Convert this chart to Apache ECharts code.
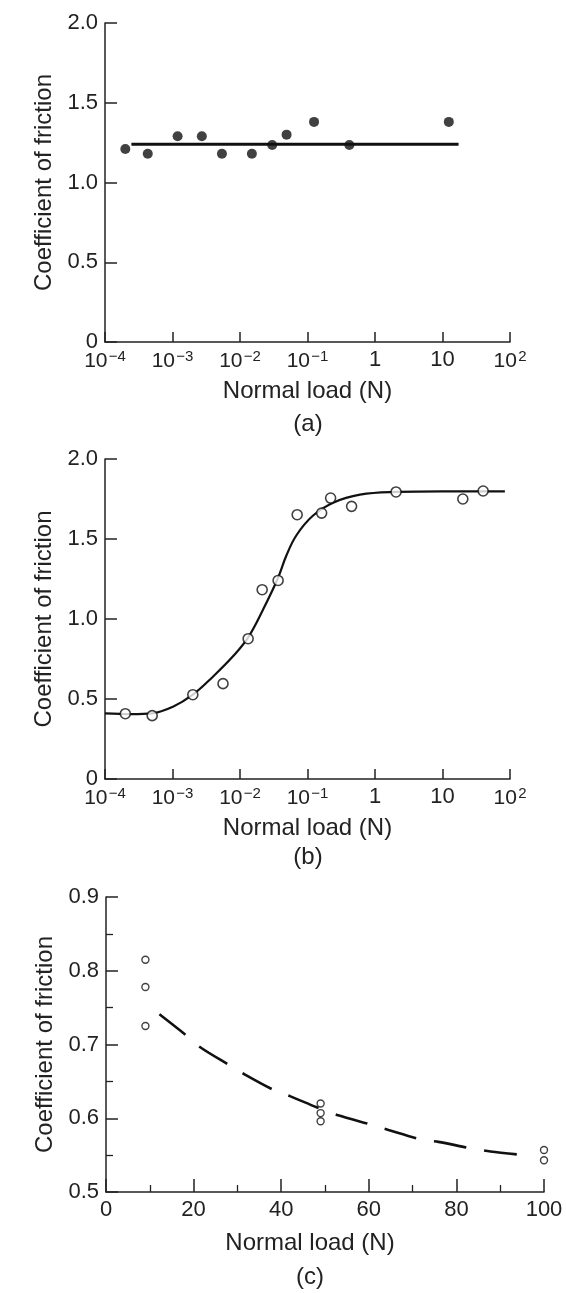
<!DOCTYPE html>
<html>
<head>
<meta charset="utf-8">
<title>Coefficient of friction vs normal load</title>
<script src="https://cdn.jsdelivr.net/npm/echarts@6/dist/echarts.min.js"></script>
<style>
  html, body { margin: 0; padding: 0; background: #fff; }
  #chart { width: 566px; height: 1293px; }
</style>
</head>
<body>
<div id="chart"></div>
<script>
// (a) filled dots, flat fit line
var aLoad = [2.0e-4, 4.3e-4, 1.19e-3, 2.72e-3, 5.4e-3, 0.015, 0.030, 0.049, 0.125, 0.417, 12.4];
var aMu   = [1.21, 1.18, 1.29, 1.29, 1.18, 1.18, 1.235, 1.30, 1.38, 1.235, 1.38];
var aFitLoad = [2.46e-4, 17.3];
var aFitMu   = [1.24, 1.24];

// (b) open circles, S-shaped curve
var bLoad = [2.0e-4, 5.0e-4, 2.0e-3, 5.6e-3, 0.0132, 0.0213, 0.0367, 0.0703, 0.162, 0.22, 0.45, 2.05, 20, 40];
var bMu   = [0.408, 0.396, 0.527, 0.596, 0.877, 1.183, 1.241, 1.652, 1.662, 1.756, 1.704, 1.794, 1.75, 1.80];
var bCurveLoad = [1e-4, 2.5e-4, 5e-4, 1e-3, 2e-3, 4e-3, 8e-3, 0.0132, 0.022, 0.036, 0.049, 0.069, 0.12, 0.24, 0.6, 2.1, 10, 84];
var bCurveMu   = [0.41, 0.405, 0.41, 0.45, 0.527, 0.641, 0.77, 0.885, 1.06, 1.25, 1.40, 1.525, 1.645, 1.727, 1.777, 1.794, 1.798, 1.798];

// (c) small open circles, dashed trend
var cLoad = [9, 9, 9, 49, 49, 49, 100, 100];
var cMu   = [0.815, 0.778, 0.725, 0.620, 0.607, 0.596, 0.557, 0.543];
var cCurveLoad = [12.2, 18.2, 21.6, 27.9, 31.5, 38.4, 42.0, 48.1, 53.0, 60.7, 64.5, 72.1, 75.9, 83.5, 87.8, 95.4];
var cCurveMu   = [0.741, 0.713, 0.696, 0.673, 0.660, 0.638, 0.630, 0.615, 0.604, 0.591, 0.584, 0.571, 0.568, 0.559, 0.555, 0.550];

var panelTags = ['(a)', '(b)', '(c)'];
var xName = 'Normal load (N)';
var yName = 'Coefficient of friction';

var FONT = '"Liberation Sans", Arial, Helvetica, sans-serif';
var INK = '#222';

function pairs(xs, ys) {
  return xs.map(function (x, i) { return [x, ys[i]]; });
}

// 10^n labels with a raised exponent
function logLabel(v) {
  var e = Math.round(Math.log10(v));
  if (e === 0) return '1';
  if (e === 1) return '10';
  return '{b|10}{s|\u200A' + (e < 0 ? '\u2212' : '') + Math.abs(e) + '}';
}

function baseAxis(gridIndex) {
  return {
    gridIndex: gridIndex,
    axisLine: { lineStyle: { color: INK, width: 1.5 } },
    axisTick: { inside: true, length: 10, lineStyle: { color: INK, width: 1.5 } },
    splitLine: { show: false },
    axisLabel: { color: INK, fontFamily: FONT, fontSize: 22, margin: 7 },
    nameLocation: 'middle',
    nameTextStyle: { color: INK, fontFamily: FONT, fontSize: 24 }
  };
}

function logX(gridIndex) {
  var ax = baseAxis(gridIndex);
  ax.type = 'log';
  ax.logBase = 10;
  ax.min = 1e-4;
  ax.max = 100;
  ax.interval = 1;
  ax.name = xName;
  ax.nameGap = 37;
  ax.axisLabel.formatter = logLabel;
  ax.axisLabel.rich = {
    b: { fontFamily: FONT, fontSize: 21, lineHeight: 25, color: INK },
    s: { fontFamily: FONT, fontSize: 15, lineHeight: 13, verticalAlign: 'top', color: INK }
  };
  return ax;
}

function muY(gridIndex) {
  var ax = baseAxis(gridIndex);
  ax.type = 'value';
  ax.min = 0;
  ax.max = 2;
  ax.interval = 0.5;
  ax.name = yName;
  ax.nameGap = 47;
  ax.axisTick.length = 12;
  ax.axisLabel.formatter = function (v) { return v === 0 ? '0' : v.toFixed(1); };
  return ax;
}

var xC = baseAxis(2);
xC.type = 'value';
xC.min = 0;
xC.max = 100;
xC.interval = 20;
xC.name = xName;
xC.nameGap = 39;
xC.nameTextStyle.padding = [0, 30, 0, 0];
xC.axisTick.length = 13;
xC.minorTick = { show: true, splitNumber: 2, length: 7, lineStyle: { color: INK, width: 1.3 } };

var yC = baseAxis(2);
yC.type = 'value';
yC.min = 0.5;
yC.max = 0.9;
yC.interval = 0.1;
yC.name = yName;
yC.nameGap = 47;
yC.axisTick.length = 12;
yC.minorTick = { show: true, splitNumber: 2, length: 7, lineStyle: { color: INK, width: 1.3 } };
yC.axisLabel.formatter = function (v) { return v.toFixed(1); };

var tagY = [424, 857, 1277];
var tagX = [308, 308, 310];

var chart = echarts.init(document.getElementById('chart'), null, { renderer: 'canvas' });
chart.setOption({
  backgroundColor: '#ffffff',
  animation: false,
  grid: [
    { left: 105, top: 23, width: 405, height: 319 },
    { left: 105, top: 459, width: 405, height: 320 },
    { left: 106, top: 897, width: 438, height: 295 }
  ],
  xAxis: [logX(0), logX(1), xC],
  yAxis: [muY(0), muY(1), yC],
  graphic: panelTags.map(function (t, i) {
    return {
      type: 'text',
      x: tagX[i],
      y: tagY[i],
      style: {
        text: t,
        fill: INK,
        font: '24px ' + FONT,
        textAlign: 'center',
        textVerticalAlign: 'middle'
      }
    };
  }),
  series: [
    {
      type: 'line', xAxisIndex: 0, yAxisIndex: 0,
      data: pairs(aFitLoad, aFitMu),
      symbol: 'none', silent: true,
      lineStyle: { color: '#111', width: 3 }, z: 2
    },
    {
      type: 'scatter', xAxisIndex: 0, yAxisIndex: 0,
      data: pairs(aLoad, aMu),
      symbol: 'circle', symbolSize: 10, silent: true,
      itemStyle: { color: '#111' }, z: 3
    },
    {
      type: 'line', xAxisIndex: 1, yAxisIndex: 1,
      data: pairs(bCurveLoad, bCurveMu),
      smooth: 0.4, symbol: 'none', silent: true,
      lineStyle: { color: '#111', width: 2.2 }, z: 2
    },
    {
      type: 'scatter', xAxisIndex: 1, yAxisIndex: 1,
      data: pairs(bLoad, bMu),
      symbol: 'circle', symbolSize: 10, silent: true,
      itemStyle: { color: '#fff', borderColor: '#111', borderWidth: 1.6 }, z: 3
    },
    {
      type: 'line', xAxisIndex: 2, yAxisIndex: 2,
      data: pairs(cCurveLoad, cCurveMu),
      smooth: 0.3, symbol: 'none', silent: true,
      lineStyle: { color: '#111', width: 2.6, type: [33, 18] }, z: 2
    },
    {
      type: 'scatter', xAxisIndex: 2, yAxisIndex: 2,
      data: pairs(cLoad, cMu),
      symbol: 'circle', symbolSize: 7, silent: true,
      itemStyle: { color: '#fff', borderColor: '#111', borderWidth: 1.4 }, z: 3
    }
  ]
});
</script>
</body>
</html>
